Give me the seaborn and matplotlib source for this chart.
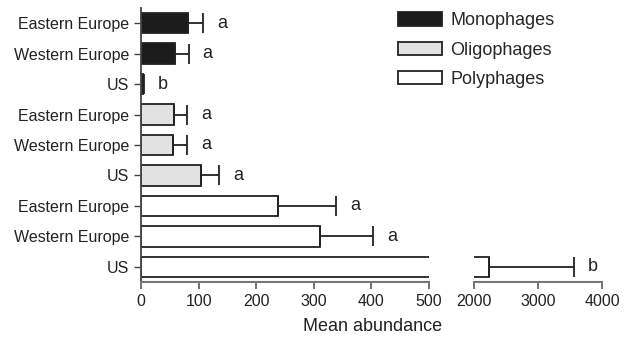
import matplotlib
matplotlib.use("Agg")
import matplotlib.pyplot as plt
import seaborn as sns
import pandas as pd
import numpy as np

regions = ["Eastern Europe", "Western Europe", "US"] * 3
groups = ["Monophages"] * 3 + ["Oligophages"] * 3 + ["Polyphages"] * 3
means = [82, 59, 3, 57, 56, 105, 238, 310, 2230]
errs = [26, 24, 2, 23, 24, 31, 101, 93, 1330]
letters = ["a", "a", "b", "a", "a", "a", "a", "a", "b"]
colors = {"Monophages": "#1c1c1c", "Oligophages": "#e2e2e2", "Polyphages": "#ffffff"}

rows = [f"r{i}" for i in range(len(means))]
df = pd.DataFrame({"row": rows, "region": regions, "group": groups, "mean": means})

sns.set_theme(style="white")
plt.rcParams["font.family"] = ["Liberation Sans", "DejaVu Sans"]

fig = plt.figure(figsize=(6.34, 3.40), dpi=100)
axL = fig.add_axes([0.2224, 0.1706, 0.4543, 0.8059])
axR = fig.add_axes([0.7476, 0.1706, 0.2019, 0.8059], sharey=axL)

edge = "#222222"
for ax in (axL, axR):
    sns.barplot(data=df, x="mean", y="row", hue="group", order=rows,
                palette=colors, dodge=False, width=0.67, ax=ax,
                edgecolor=edge, linewidth=1.3, legend=(ax is axL), errorbar=None)
    pos = np.arange(len(means))
    ax.errorbar(means, pos, xerr=[np.zeros(len(errs)), errs], fmt="none",
                ecolor=edge, elinewidth=1.3, capsize=7, capthick=1.3, zorder=3)
    ax.set_ylabel("")
    ax.set_xlabel("")
    ax.set_ylim(len(means) - 0.5, -0.5)

axL.set_xlim(0, 500)
axR.set_xlim(2000, 4000)
axL.set_xticks([0, 100, 200, 300, 400, 500])
axR.set_xticks([2000, 3000, 4000])

# letters
for i, (m, e, l) in enumerate(zip(means, errs, letters)):
    ax = axL if m + e <= 500 else axR
    ax.annotate(l, xy=(m + e, i), xytext=(10, 0), textcoords="offset points",
                va="center", ha="left", fontsize=13, color="#222222")

axL.set_yticks(np.arange(len(means)))
axL.set_yticklabels(regions, fontsize=11.5, color="#222222")

for s in ["top", "right"]:
    axL.spines[s].set_visible(False)
for s in ["top", "right", "left"]:
    axR.spines[s].set_visible(False)
for ax in (axL, axR):
    ax.spines["bottom"].set_color("#777777")
    ax.spines["bottom"].set_linewidth(1.5)
    ax.tick_params(axis="x", direction="out", length=5, width=1.3, color="#666666",
                   labelsize=11.5, labelcolor="#222222", bottom=True)
axL.spines["left"].set_color("#444444")
axL.spines["left"].set_linewidth(1.3)
axL.tick_params(axis="y", direction="out", length=5, width=1.0, color="#444444", left=True)
axR.tick_params(axis="y", left=False, labelleft=False)

fig.text(0.587, 0.04, "Mean abundance", ha="center", va="center", fontsize=13, color="#222222")

leg = axL.legend_
handles = leg.legend_handles
leg.remove()
fig.legend(handles, ["Monophages", "Oligophages", "Polyphages"],
           loc="upper left", bbox_to_anchor=(0.6025, 1.012), frameon=False,
           fontsize=13, handlelength=2.4, handleheight=0.78, labelspacing=0.68,
           handletextpad=0.5)

fig.savefig("out.png", dpi=100)
